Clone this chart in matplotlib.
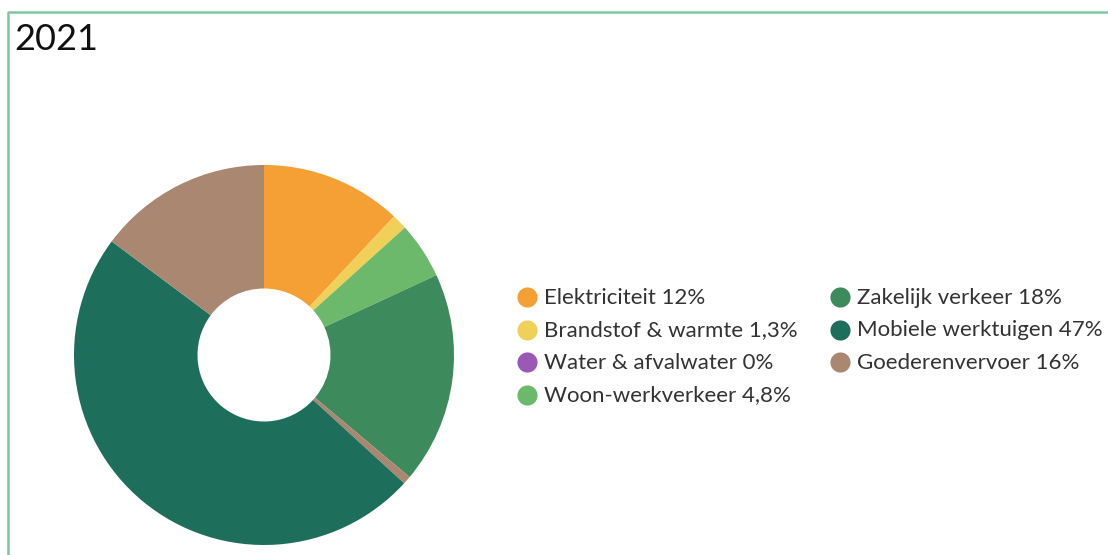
import matplotlib
matplotlib.use("Agg")
import matplotlib.pyplot as plt

plt.rcParams['font.family'] = ['Lato', 'DejaVu Sans']

title = "2021"
labels = ["Elektriciteit 12%", "Brandstof & warmte 1,3%", "Water & afvalwater 0%",
          "Woon-werkverkeer 4,8%", "Zakelijk verkeer 18%", "Mobiele werktuigen 47%",
          "Goederenvervoer 16%"]
colors = ["#f5a035", "#f0d058", "#9b59b6", "#6cb96c", "#3d8b5c", "#1e6e5c", "#a98770"]

# wedge order as drawn (clockwise from top), including the small brown sliver
slice_values = [12, 1.3, 0, 4.8, 18, 0.7, 48.4, 14.8]
slice_colors = ["#f5a035", "#f0d058", "#9b59b6", "#6cb96c", "#3d8b5c", "#a98770",
                "#1e6e5c", "#a98770"]

fig = plt.figure(figsize=(11.08, 5.55), dpi=100)

# pixel-coordinate overlay
frame = fig.add_axes([0, 0, 1, 1])
frame.set_xlim(0, 1108)
frame.set_ylim(555, 0)
frame.axis('off')
frame.plot([7.5, 7.5, 1108], [560, 12, 12], color="#7dc8a0", lw=1.8, solid_capstyle='butt')
frame.text(14, 40, title, fontsize=26, va='center', ha='left', color='#111111')

# pie: center (264,355), radius 190
R = 190
ax = fig.add_axes([(264 - R) / 1108, 1 - (355 + R) / 555, 2 * R / 1108, 2 * R / 555])
ax.pie(slice_values, colors=slice_colors, startangle=90, counterclock=False,
       wedgeprops=dict(width=0.65, edgecolor='none', linewidth=0), radius=1)
ax.set_xlim(-1, 1)
ax.set_ylim(-1, 1)
ax.set_aspect('auto')
ax.axis('off')

# legend (two columns, manual placement)
col_x = [527, 840]
row_y = [297, 329.5, 362, 394.5]
for i, (lab, c) in enumerate(zip(labels, colors)):
    col = 0 if i < 4 else 1
    row = i if i < 4 else i - 4
    x, y = col_x[col], row_y[row]
    frame.plot([x], [y], marker='o', markersize=14.5, color=c, markeredgecolor='none',
               linestyle='none')
    frame.text(x + 17, y + 1, lab, fontsize=16, va='center', ha='left', color='#333333')

fig.savefig("out.png", dpi=100)
